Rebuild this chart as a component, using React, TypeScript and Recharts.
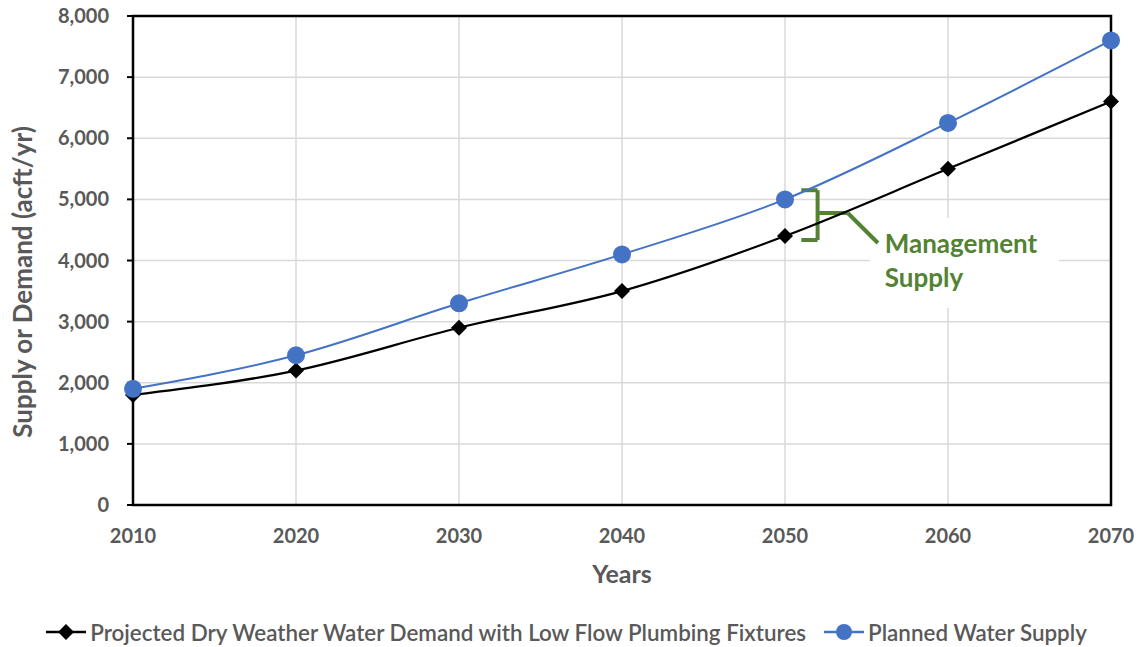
import React from 'react';
import {
  LineChart,
  Line,
  XAxis,
  YAxis,
  CartesianGrid,
  Legend,
  ReferenceArea,
  ReferenceLine,
} from 'recharts';

const YEARS = [2010, 2020, 2030, 2040, 2050, 2060, 2070];
const DEMAND = [1800, 2200, 2900, 3500, 4400, 5500, 6600];
const SUPPLY = [1900, 2450, 3300, 4100, 5000, 6250, 7600];
const Y_TICKS = [0, 1000, 2000, 3000, 4000, 5000, 6000, 7000, 8000];

const DEMAND_NAME = 'Projected Dry Weather Water Demand with Low Flow Plumbing Fixtures';
const SUPPLY_NAME = 'Planned Water Supply';

// bracket + callout for the gap between supply and demand around 2050
const BRACKET_X = [2051.0, 2052.0];
const BRACKET_Y = [5150, 4777, 4335];
const LEADER_X = [2053.85, 2055.7];
const LEADER_Y = 4286;
const NOTE_BOX_X = [2055.2, 2066.8];
const NOTE_BOX_Y = [3223, 4695];
const NOTE_LINES = ['Management', 'Supply'];

const GREEN = '#548235';
const BLUE = '#4472C4';
const GRAY = '#595959';
const FONT = 'Lato, "Open Sans", sans-serif';

const data = YEARS.map((year, i) => ({ year, demand: DEMAND[i], supply: SUPPLY[i] }));

const Diamond = (props: any) => {
  const { cx, cy } = props;
  if (cx == null || cy == null) return null;
  const s = 8;
  return (
    <polygon
      points={`${cx},${cy - s} ${cx + s},${cy} ${cx},${cy + s} ${cx - s},${cy}`}
      fill="#000"
    />
  );
};

const LegendIcon = ({ kind }: { kind: 'diamond' | 'circle' }) => (
  <svg width={40} height={20} style={{ marginRight: 4 }}>
    <line x1={0} y1={10} x2={40} y2={10} stroke={kind === 'diamond' ? '#000' : BLUE} strokeWidth={2.5} />
    {kind === 'diamond' ? (
      <polygon points="20,2 28,10 20,18 12,10" fill="#000" />
    ) : (
      <circle cx={20} cy={10} r={8} fill={BLUE} />
    )}
  </svg>
);

const renderLegend = () => (
  <div
    style={{
      display: 'flex',
      justifyContent: 'center',
      alignItems: 'center',
      height: 30,
      paddingLeft: 22,
      fontFamily: FONT,
      fontSize: 22.4,
      color: GRAY,
      fontWeight: 600,
      whiteSpace: 'nowrap',
    }}
  >
    <LegendIcon kind="diamond" />
    <span style={{ marginRight: 18 }}>{DEMAND_NAME}</span>
    <LegendIcon kind="circle" />
    <span>{SUPPLY_NAME}</span>
  </div>
);

const NoteText = (props: any) => {
  const { x, y } = props.viewBox;
  return (
    <g>
      {NOTE_LINES.map((t, i) => (
        <text
          key={t}
          x={x + 15}
          y={y + 35 + i * 34}
          fill={GREEN}
          fontFamily={FONT}
          fontWeight={700}
          fontSize={26}
        >
          {t}
        </text>
      ))}
    </g>
  );
};

const greenSeg = { stroke: GREEN, strokeWidth: 4 };

export default function App() {
  return (
    <div style={{ position: 'absolute', left: 0, top: 0, background: '#fff' }}>
      <LineChart
        width={1143}
        height={647}
        data={data}
        margin={{ top: 16, right: 32, left: 0, bottom: 0 }}
      >
        <CartesianGrid stroke="#d9d9d9" strokeWidth={1.5} />
        <XAxis
          dataKey="year"
          type="number"
          domain={[2010, 2070]}
          ticks={YEARS}
          height={112}
          tickLine={false}
          tickMargin={18}
          axisLine={false}
          tick={{ fill: GRAY, fontSize: 20, fontWeight: 700, fontFamily: FONT }}
          label={(p: any) => (
            <text
              x={p.viewBox.x + p.viewBox.width / 2}
              y={p.viewBox.y + 78}
              textAnchor="middle"
              fill={GRAY}
              fontFamily={FONT}
              fontWeight={700}
              fontSize={25}
            >
              Years
            </text>
          )}
        />
        <YAxis
          type="number"
          domain={[0, 8000]}
          ticks={Y_TICKS}
          width={133}
          tickSize={6}
          tickMargin={18}
          axisLine={false}
          tickLine={{ stroke: '#000', strokeWidth: 2 }}
          tickFormatter={(v: number) => v.toLocaleString('en-US')}
          tick={{ fill: GRAY, fontSize: 20, fontWeight: 700, fontFamily: FONT }}
          label={() => (
            <text
              x={22}
              y={282}
              transform="rotate(-90 22 282)"
              textAnchor="middle"
              dominantBaseline="central"
              fill={GRAY}
              fontFamily={FONT}
              fontWeight={700}
              fontSize={26}
            >
              Supply or Demand (acft/yr)
            </text>
          )}
        />
        <ReferenceArea
          x1={NOTE_BOX_X[0]}
          x2={NOTE_BOX_X[1]}
          y1={NOTE_BOX_Y[0]}
          y2={NOTE_BOX_Y[1]}
          fill="#fff"
          fillOpacity={1}
          stroke="none"
          label={<NoteText />}
        />
        <ReferenceArea
          x1={2010}
          x2={2070}
          y1={0}
          y2={8000}
          fill="none"
          stroke="#000"
          strokeWidth={2.5}
        />
        <ReferenceLine
          segment={[
            { x: BRACKET_X[0], y: BRACKET_Y[0] },
            { x: BRACKET_X[1], y: BRACKET_Y[0] },
          ]}
          {...greenSeg}
        />
        <ReferenceLine
          segment={[
            { x: BRACKET_X[1], y: BRACKET_Y[0] },
            { x: BRACKET_X[1], y: BRACKET_Y[2] },
          ]}
          {...greenSeg}
        />
        <ReferenceLine
          segment={[
            { x: BRACKET_X[1], y: BRACKET_Y[2] },
            { x: BRACKET_X[0], y: BRACKET_Y[2] },
          ]}
          {...greenSeg}
        />
        <ReferenceLine
          segment={[
            { x: BRACKET_X[1], y: BRACKET_Y[1] },
            { x: LEADER_X[0], y: BRACKET_Y[1] },
          ]}
          {...greenSeg}
        />
        <ReferenceLine
          segment={[
            { x: LEADER_X[0], y: BRACKET_Y[1] },
            { x: LEADER_X[1], y: LEADER_Y },
          ]}
          {...greenSeg}
        />
        <Line
          type="monotone"
          dataKey="demand"
          name={DEMAND_NAME}
          stroke="#000"
          strokeWidth={2.25}
          dot={<Diamond />}
          activeDot={false}
          isAnimationActive={false}
        />
        <Line
          type="monotone"
          dataKey="supply"
          name={SUPPLY_NAME}
          stroke={BLUE}
          strokeWidth={2}
          dot={{ r: 9, fill: BLUE, stroke: BLUE, strokeWidth: 0 }}
          activeDot={false}
          isAnimationActive={false}
        />
        <Legend verticalAlign="bottom" content={renderLegend} />
      </LineChart>
    </div>
  );
}
